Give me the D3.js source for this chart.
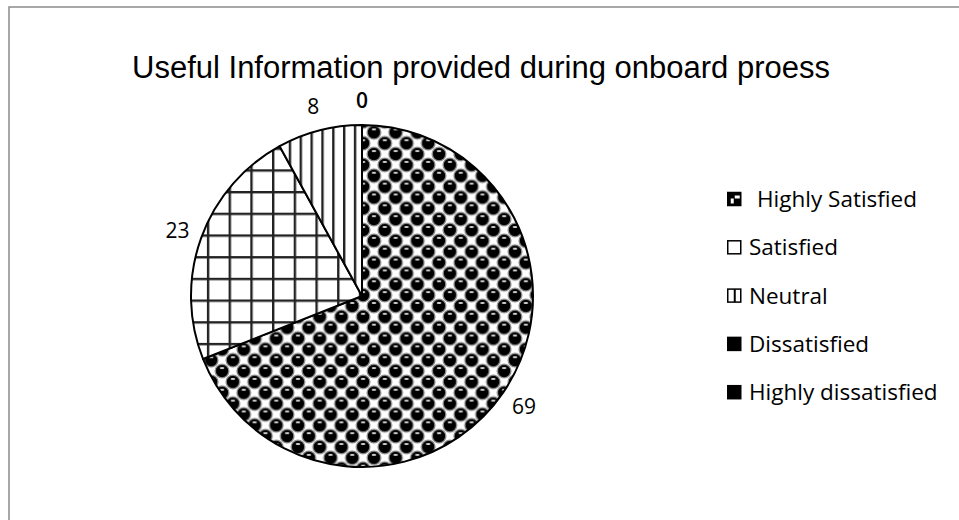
<!DOCTYPE html>
<html>
<head>
<meta charset="utf-8">
<script src="https://cdn.jsdelivr.net/npm/d3@7"></script>
<style>
  body { margin: 0; background: #fff; }
  svg { display: block; }
</style>
</head>
<body>
<div id="chart"></div>
<script>
// chart data
const categories = ['Highly Satisfied', 'Satisfied', 'Neutral', 'Dissatisfied', 'Highly dissatisfied'];
const values = [69, 23, 8, 0, 0];
const chartTitle = 'Useful Information provided during onboard proess';

const width = 959, height = 520;
const cx = 362, cy = 296, radius = 171;

const svg = d3.select('#chart').append('svg')
    .attr('width', width)
    .attr('height', height);

const defs = svg.append('defs');

// dotted "sphere" pattern for the big slice
const tile = 21.7;
const half = tile / 2;
const dots = defs.append('pattern')
    .attr('id', 'pat-dots')
    .attr('patternUnits', 'userSpaceOnUse')
    .attr('width', tile).attr('height', tile)
    .attr('x', 370 - half).attr('y', 129.3 - half);
dots.append('rect').attr('width', tile).attr('height', tile).attr('fill', '#fff');
// spheres at the corners and the centre of each tile
[[0, 0], [tile, 0], [0, tile], [tile, tile], [half, half]].forEach(p => {
    dots.append('circle')
        .attr('cx', p[0]).attr('cy', p[1]).attr('r', 6.8)
        .attr('fill', '#000').attr('stroke', '#8a8a8a').attr('stroke-width', 1.3);
    dots.append('ellipse')
        .attr('cx', p[0]).attr('cy', p[1] - 3).attr('rx', 2.4).attr('ry', 1)
        .attr('fill', '#ddd');
});

// square grid pattern
const grid = defs.append('pattern')
    .attr('id', 'pat-grid')
    .attr('patternUnits', 'userSpaceOnUse')
    .attr('width', tile).attr('height', tile)
    .attr('x', 213.8).attr('y', 198.8);
grid.append('rect').attr('width', tile).attr('height', tile).attr('fill', '#fff');
grid.append('rect').attr('width', 2.4).attr('height', tile).attr('fill', '#222');
grid.append('rect').attr('width', tile).attr('height', 2.4).attr('fill', '#222');

// vertical lines pattern
const vlines = defs.append('pattern')
    .attr('id', 'pat-vlines')
    .attr('patternUnits', 'userSpaceOnUse')
    .attr('width', half).attr('height', tile)
    .attr('x', 284.8).attr('y', 0);
vlines.append('rect').attr('width', half).attr('height', tile).attr('fill', '#fff');
vlines.append('rect').attr('width', 2.4).attr('height', tile).attr('fill', '#222');

// small legend versions
const legDots = defs.append('pattern')
    .attr('id', 'leg-dots')
    .attr('patternUnits', 'objectBoundingBox')
    .attr('width', 1).attr('height', 1);
legDots.append('rect').attr('width', 14).attr('height', 14).attr('fill', '#000');
legDots.append('rect').attr('x', 7).attr('y', 3).attr('width', 5).attr('height', 3).attr('fill', '#fff');
legDots.append('rect').attr('x', 3).attr('y', 6).attr('width', 3).attr('height', 5).attr('fill', '#fff');

const legV = defs.append('pattern')
    .attr('id', 'leg-vlines')
    .attr('patternUnits', 'objectBoundingBox')
    .attr('width', 1).attr('height', 1);
legV.append('rect').attr('width', 14).attr('height', 14).attr('fill', '#fff');
legV.append('rect').attr('x', 6).attr('width', 2).attr('height', 14).attr('fill', '#000');

const sliceFill = ['url(#pat-dots)', 'url(#pat-grid)', 'url(#pat-vlines)', '#000', '#000'];
const legendFill = ['url(#leg-dots)', '#fff', 'url(#leg-vlines)', '#000', '#000'];

// outer frame (runs off the right and bottom edges)
svg.append('rect')
    .attr('x', 9).attr('y', 7)
    .attr('width', 960).attr('height', 530)
    .attr('fill', 'none')
    .attr('stroke', '#8c8c8c')
    .attr('stroke-width', 1.5);

// title
svg.append('text')
    .attr('x', 481).attr('y', 78)
    .attr('text-anchor', 'middle')
    .style('font-family', '"Liberation Sans", Arial, sans-serif')
    .style('font-size', '31px')
    .style('fill', '#000')
    .text(chartTitle);

const pie = d3.pie().sort(null).value(d => d)(values);
const arc = d3.arc().innerRadius(0).outerRadius(radius);
const labelArc = d3.arc().innerRadius(radius + 25).outerRadius(radius + 25);

const g = svg.append('g').attr('transform', `translate(${cx},${cy})`);

g.selectAll('path.slice')
    .data(pie)
    .enter()
    .append('path')
    .attr('class', 'slice')
    .attr('d', arc)
    .attr('fill', (d, i) => sliceFill[i])
    .attr('stroke', '#000')
    .attr('stroke-width', 2)
    .attr('stroke-linejoin', 'round');

// data labels, the two empty slices share one "0"
g.selectAll('text.lbl')
    .data(pie.filter((d, i) => i < 4))
    .enter()
    .append('text')
    .attr('class', 'lbl')
    .attr('transform', d => {
        const c = labelArc.centroid(d);
        return `translate(${c[0]},${c[1]})`;
    })
    .attr('text-anchor', 'middle')
    .attr('dy', '0.38em')
    .style('font-family', '"Open Sans", sans-serif')
    .style('font-size', '21px')
    .style('font-weight', (d, i) => i === 3 ? 600 : 400)
    .style('fill', '#000')
    .text(d => d.data);

// legend
const legend = svg.append('g').attr('transform', 'translate(727,199)');
const rowH = 48.3;
const items = legend.selectAll('g.item')
    .data(categories)
    .enter()
    .append('g')
    .attr('class', 'item')
    .attr('transform', (d, i) => `translate(0,${i * rowH})`);

items.append('rect')
    .attr('x', 0.75).attr('y', -6.5)
    .attr('width', 13).attr('height', 13)
    .attr('fill', (d, i) => legendFill[i])
    .attr('stroke', '#000')
    .attr('stroke-width', 1.5);

items.append('text')
    .attr('x', (d, i) => i === 0 ? 30 : 22)
    .attr('dy', '0.36em')
    .style('font-family', '"Open Sans", sans-serif')
    .style('font-size', '22.5px')
    .style('fill', '#000')
    .text(d => d);
</script>
</body>
</html>
